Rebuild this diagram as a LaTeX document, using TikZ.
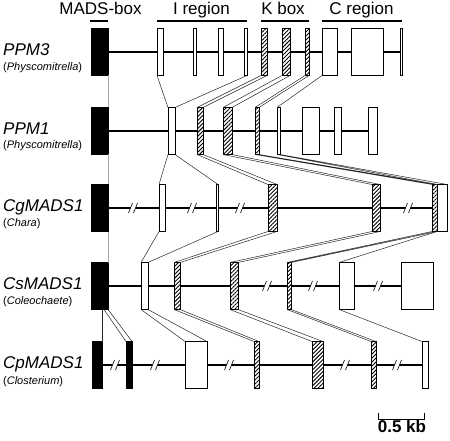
\documentclass[tikz,border=0pt]{standalone}
\usepackage{fontspec}
\setmainfont{Liberation Sans}
\usetikzlibrary{patterns.meta,backgrounds,calc}
\begin{document}
\begin{tikzpicture}[x=1pt, y=-1pt,
    exon/.style={draw, line width=0.9pt, fill=white, inner sep=0pt, outer sep=0pt, minimum height=47pt},
    mads/.style={exon, fill=black},
    kbox/.style={draw, line width=0.9pt, inner sep=0pt, outer sep=0pt, minimum height=47pt,
      preaction={fill=white}, pattern={Lines[angle=45,distance=2.8pt,line width=0.9pt]}, pattern color=black},
    gline/.style={line width=1.6pt},
    link/.style={line width=0.5pt, black!85},
    glink/.style={line width=0.6pt, gray!70},
    bar/.style={line width=2pt},
    gene/.style={font=\fontsize{17}{20}\selectfont\itshape, anchor=base west, inner sep=0pt},
    org/.style={font=\fontsize{11}{13}\selectfont, anchor=base west, inner sep=0pt},
    head/.style={font=\fontsize{17}{20}\selectfont, anchor=base, inner sep=0pt},
    brk/.pic={
      \fill[white] (-4.5,5) -- (-0.5,-5) -- (4.5,-5) -- (0.5,5) -- cycle;
      \draw[line width=0.6pt] (-4.5,5) -- (-0.5,-5) (0.5,5) -- (4.5,-5);
    }]
  \useasboundingbox (0,0) rectangle (450,441);

  % Regioes
  \node[head] (hmads) at (100.5,15) {MADS-box};
  \node[head] (hi)    at (201.5,15) {I region};
  \node[head] (hk)    at (283,15)   {K box};
  \node[head] (hc)    at (361.5,15) {C region};
  \draw[bar] (90,21)  -- (108,21);
  \draw[bar] (157,21) -- (247,21);
  \draw[bar] (261,21) -- (309,21);
  \draw[bar] (322,21) -- (402,21);

  % PPM3
  \node[gene] (n3) at (3,56)   {PPM3};
  \node[org]  (o3) at (3,70.5) {(\textit{Physcomitrella})};
  \node[mads, minimum width=17pt] (m3)  at (99.5,52) {};
  \node[exon, minimum width=6pt]  (p3a) at (160,52)  {};
  \node[exon, minimum width=3pt]  (p3b) at (194.5,52) {};
  \node[exon, minimum width=5pt]  (p3c) at (220.5,52) {};
  \node[exon, minimum width=3pt]  (p3d) at (245.5,52) {};
  \node[kbox, minimum width=6pt]  (p3e) at (264,52)  {};
  \node[kbox, minimum width=8pt]  (p3f) at (286,52)  {};
  \node[kbox, minimum width=4pt]  (p3g) at (307,52)  {};
  \node[exon, minimum width=15pt] (p3h) at (329.5,52) {};
  \node[exon, minimum width=32pt] (p3i) at (367,52)  {};
  \node[exon, minimum width=2pt]  (p3j) at (401,52)  {};

  % PPM1
  \node[gene] (n1) at (3,134.5) {PPM1};
  \node[org]  (o1) at (3,149)   {(\textit{Physcomitrella})};
  \node[mads, minimum width=17pt] (m1)  at (99.5,131) {};
  \node[exon, minimum width=7pt]  (p1a) at (171.5,131) {};
  \node[kbox, minimum width=6pt]  (p1b) at (200,131)   {};
  \node[kbox, minimum width=9pt]  (p1c) at (227.5,131) {};
  \node[kbox, minimum width=4pt]  (p1d) at (257,131)   {};
  \node[exon, minimum width=3pt]  (p1e) at (278.5,131) {};
  \node[exon, minimum width=17pt] (p1f) at (310.5,131) {};
  \node[exon, minimum width=7pt]  (p1g) at (337.5,131) {};
  \node[exon, minimum width=9pt]  (p1h) at (372.5,131) {};

  % CgMADS1
  \node[gene] (ng) at (3,211.5) {CgMADS1};
  \node[org]  (og) at (3,226)   {(\textit{Chara})};
  \node[mads, minimum width=17pt] (mg) at (99.5,208) {};
  \node[exon, minimum width=6pt]  (ga) at (162,208)   {};
  \node[exon, minimum width=2pt]  (gb) at (217,208)   {};
  \node[kbox, minimum width=9pt]  (gc) at (272.5,208) {};
  \node[kbox, minimum width=8pt]  (gd) at (376,208)   {};
  \node[kbox, minimum width=5pt]  (ge) at (434.5,208) {};
  \node[exon, minimum width=10pt] (gf) at (442,208)   {};

  % CsMADS1
  \node[gene] (ns) at (3,289.5) {CsMADS1};
  \node[org]  (os) at (3,304.5) {(\textit{Coleochaete})};
  \node[mads, minimum width=17pt] (ms) at (99.5,286) {};
  \node[exon, minimum width=7pt]  (sa) at (144.5,286) {};
  \node[kbox, minimum width=6pt]  (sb) at (177,286)   {};
  \node[kbox, minimum width=8pt]  (sc) at (234,286)   {};
  \node[kbox, minimum width=4pt]  (sd) at (289,286)   {};
  \node[exon, minimum width=15pt] (se) at (346.5,286) {};
  \node[exon, minimum width=32pt] (sf) at (417,286)   {};

  % CpMADS1
  \node[gene] (np) at (3,368.5) {CpMADS1};
  \node[org]  (op) at (3,384)   {(\textit{Closterium})};
  \node[mads, minimum width=10pt] (mp1) at (97,365)    {};
  \node[mads, minimum width=6pt]  (mp2) at (129,365)   {};
  \node[exon, minimum width=22pt] (pa)  at (196,365)   {};
  \node[kbox, minimum width=5pt]  (pb)  at (256.5,365) {};
  \node[kbox, minimum width=11pt] (pc)  at (317.5,365) {};
  \node[kbox, minimum width=5pt]  (pd)  at (373.5,365) {};
  \node[exon, minimum width=6pt]  (pe)  at (425,365)   {};

  % Linhas dos genes
  \begin{scope}[on background layer]
    \draw[gline] (m3.east)  -- (p3j.west);
    \draw[gline] (m1.east)  -- (p1h.west);
    \draw[gline] (mg.east)  -- (ge.west);
    \draw[gline] (ms.east)  -- (sf.west);
    \draw[gline] (mp1.east) -- (pe.west);
    \pic at (133,208) {brk};
    \pic at (192,208) {brk};
    \pic at (240,208) {brk};
    \pic at (408,208) {brk};
    \pic at (267,286) {brk};
    \pic at (313,286) {brk};
    \pic at (378,286) {brk};
    \pic at (115,365) {brk};
    \pic at (155,365) {brk};
    \pic at (229,365) {brk};
    \pic at (345,365) {brk};
    \pic at (397,365) {brk};
  \end{scope}

  % PPM3 -> PPM1
  \draw[glink] (m3.south east) -- (m1.north east);
  \draw[link] (p3a.south west) -- (p1a.north west) (p3d.south east) -- (p1a.north east);
  \draw[link] (p3e.south west) -- (p1b.north west) (p3e.south east) -- (p1b.north east);
  \draw[link] (p3f.south west) -- (p1c.north west) (p3f.south east) -- (p1c.north east);
  \draw[link] (p3g.south west) -- (p1d.north west) (p3g.south east) -- (p1d.north east);
  \draw[link] (p3h.south west) -- (p1e.north west);

  % PPM1 -> CgMADS1
  \draw[glink] (m1.south east) -- (mg.north east);
  \draw[link] (p1a.south west) -- (ga.north west) (p1a.south east) -- (gb.north east);
  \draw[link] (p1b.south west) -- (gc.north west) (p1b.south east) -- (gc.north east);
  \draw[link] (p1c.south west) -- (gd.north west) (p1c.south east) -- (gd.north east);
  \draw[link] (p1d.south west) -- (ge.north west) (p1d.south east) -- (ge.north east);
  \draw[link] (p1e.south west) -- (gf.north west) (p1e.south east) -- (gf.north east);

  % CgMADS1 -> CsMADS1
  \draw[glink] (mg.south east) -- (ms.north east);
  \draw[link] (ga.south west) -- (sa.north west) (gb.south east) -- (sa.north east);
  \draw[link] (gc.south west) -- (sb.north west) (gc.south east) -- (sb.north east);
  \draw[link] (gd.south west) -- (sc.north west) (gd.south east) -- (sc.north east);
  \draw[link] (ge.south west) -- (sd.north west) (ge.south east) -- (sd.north east);
  \draw[link] (gf.south west) -- (se.north west);

  % CsMADS1 -> CpMADS1
  \draw[link] (mp1.north east |- ms.south) -- (mp1.north east);
  \draw[link] ($(ms.south east)+(-4,0)$) -- (mp2.north west) (ms.south east) -- (mp2.north east);
  \draw[link] (sa.south west) -- (pa.north west) (sa.south east) -- (pa.north east);
  \draw[link] (sb.south west) -- (pb.north west) (sb.south east) -- (pb.north east);
  \draw[link] (sc.south west) -- (pc.north west) (sc.south east) -- (pc.north east);
  \draw[link] (sd.south west) -- (pd.north west) (sd.south east) -- (pd.north east);
  \draw[link] (se.south west) -- (pe.north west);

  % Escala
  \coordinate (s0) at (378,419);
  \coordinate (s1) at (424,419);
  \draw[line width=1pt] ($(s0)+(0,-6)$) -- (s0) -- (s1) -- ($(s1)+(0,-6)$);
  \node[head, font=\fontsize{17}{20}\selectfont\bfseries] (kb) at (402,432) {0.5 kb};
\end{tikzpicture}
\end{document}
